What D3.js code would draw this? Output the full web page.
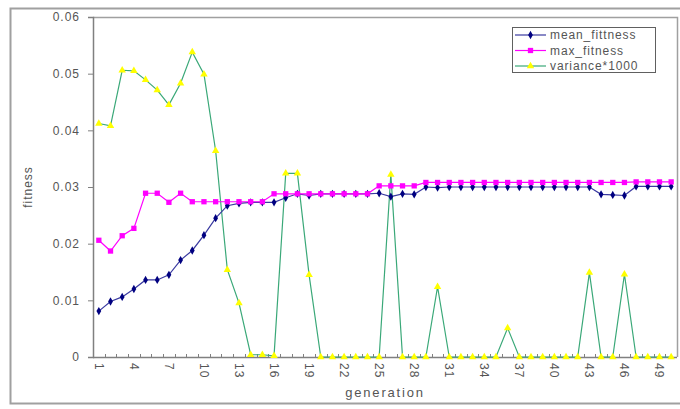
<!DOCTYPE html>
<head>
  <meta charset="utf-8" />
  <script src="https://d3js.org/d3.v7.min.js"></script>
  <title>fitness</title>
</head>
<style>
  body {
    margin: 0;
    background: #fff;
  }
  text {
    font-family: "Liberation Sans", Arial, sans-serif;
    fill: #555;
  }
</style>
<body>
  <div id="container"></div>
  <script>
    // generation numbers
    var generations = [
      1, 2, 3, 4, 5, 6, 7, 8, 9, 10, 11, 12, 13, 14, 15, 16, 17, 18, 19, 20,
      21, 22, 23, 24, 25, 26, 27, 28, 29, 30, 31, 32, 33, 34, 35, 36, 37, 38,
      39, 40, 41, 42, 43, 44, 45, 46, 47, 48, 49, 50,
    ];
    var xLabels = [1, 4, 7, 10, 13, 16, 19, 22, 25, 28, 31, 34, 37, 40, 43, 46, 49];
    var yTicks = [0, 0.01, 0.02, 0.03, 0.04, 0.05, 0.06];

    var meanFitness = [
      0.0081, 0.0098, 0.0106, 0.012, 0.0136, 0.0136, 0.0145, 0.0171, 0.0188,
      0.0215, 0.0245, 0.0267, 0.0271, 0.0273, 0.0273, 0.0273, 0.0281, 0.0288,
      0.0285, 0.0288, 0.0288, 0.0288, 0.0288, 0.0288, 0.0289, 0.0283, 0.0288,
      0.0287, 0.03, 0.0299, 0.03, 0.03, 0.03, 0.03, 0.03, 0.03, 0.03, 0.03,
      0.03, 0.03, 0.03, 0.03, 0.03, 0.0287, 0.0286, 0.0285, 0.0301, 0.0301,
      0.0301, 0.0301,
    ];
    var maxFitness = [
      0.0206, 0.0187, 0.0214, 0.0227, 0.0289, 0.0289, 0.0273, 0.0289, 0.0274,
      0.0274, 0.0274, 0.0274, 0.0274, 0.0274, 0.0274, 0.0288, 0.0288, 0.0288,
      0.0288, 0.0288, 0.0288, 0.0288, 0.0288, 0.0288, 0.0302, 0.0302, 0.0302,
      0.0302, 0.0308, 0.0308, 0.0308, 0.0308, 0.0308, 0.0308, 0.0308, 0.0308,
      0.0308, 0.0308, 0.0308, 0.0308, 0.0308, 0.0308, 0.0308, 0.0308, 0.0308,
      0.0308, 0.0309, 0.0309, 0.0309, 0.0309,
    ];
    var variance1000 = [
      0.0412, 0.0408, 0.0506, 0.0505, 0.0489, 0.0471, 0.0445, 0.0483, 0.0538,
      0.0499, 0.0364, 0.0154, 0.0095, 0.0004, 0.0004, 0.0002, 0.0324, 0.0324,
      0.0145, 0, 0, 0, 0, 0, 0, 0.0322, 0, 0, 0, 0.0124, 0, 0, 0, 0, 0,
      0.0051, 0, 0, 0, 0, 0, 0, 0.0149, 0, 0, 0.0146, 0, 0, 0, 0,
    ];

    var series = [
      { name: "mean_fittness", values: meanFitness, line: "#3a3aa0", fill: "#000080", shape: d3.symbolDiamond, size: 20 },
      { name: "max_fitness", values: maxFitness, line: "#ff00ff", fill: "#ff00ff", shape: d3.symbolSquare, size: 28 },
      { name: "variance*1000", values: variance1000, line: "#3aa878", fill: "#ffff00", shape: d3.symbolTriangle, size: 24 },
    ];

    var W = 680, H = 409;
    var plot = { left: 93, right: 677, top: 17, bottom: 357 };

    var svg = d3
      .select("#container")
      .append("svg")
      .attr("width", W)
      .attr("height", H);

    // outer chart frame
    svg
      .append("rect")
      .attr("x", 10.5)
      .attr("y", 8.5)
      .attr("width", 690)
      .attr("height", 395)
      .attr("fill", "none")
      .attr("stroke", "#a0a0a0")
      .attr("stroke-width", 2);

    var x = d3
      .scaleBand()
      .domain(generations)
      .range([plot.left, plot.right])
      .padding(0);
    var y = d3.scaleLinear().domain([0, 0.06]).range([plot.bottom, plot.top]);
    var cx = (d) => x(d) + x.bandwidth() / 2;

    // plot area border (top, right)
    svg
      .append("path")
      .attr("d", "M" + plot.left + "," + (plot.top + 0.5) + "H" + (plot.right + 0.5) + "V" + plot.bottom)
      .attr("fill", "none")
      .attr("stroke", "#a0a0a0")
      .attr("stroke-width", 1.5);

    // y axis
    var yAxis = svg
      .append("g")
      .attr("transform", "translate(" + plot.left + ",0)")
      .call(
        d3
          .axisLeft(y)
          .tickValues(yTicks)
          .tickSize(5)
          .tickPadding(8)
          .tickFormat((d) => (d === 0 ? "0" : d3.format(".2f")(d)))
      );
    yAxis.select(".domain").attr("stroke", "#808080").attr("stroke-width", 1.5);
    yAxis.selectAll(".tick line").attr("stroke", "#808080");
    yAxis
      .selectAll(".tick text")
      .style("font-size", "12px")
      .style("letter-spacing", "1px")
      .attr("fill", "#555");

    // x axis line and category ticks
    var xg = svg.append("g");
    xg.append("line")
      .attr("x1", plot.left)
      .attr("x2", plot.right)
      .attr("y1", plot.bottom + 0.5)
      .attr("y2", plot.bottom + 0.5)
      .attr("stroke", "#808080")
      .attr("stroke-width", 1.5);
    xg.selectAll(".ctick")
      .data(generations.slice(1))
      .enter()
      .append("line")
      .attr("x1", (d) => Math.round(x(d)) + 0.5)
      .attr("x2", (d) => Math.round(x(d)) + 0.5)
      .attr("y1", plot.bottom - 3)
      .attr("y2", plot.bottom)
      .attr("stroke", "#808080");
    xg.selectAll(".xlab")
      .data(xLabels)
      .enter()
      .append("text")
      .attr("transform", (d) => "translate(" + cx(d) + "," + (plot.bottom + 6) + ") rotate(90)")
      .attr("dy", "0.35em")
      .style("font-size", "12px")
      .style("letter-spacing", "1px")
      .text((d) => d);

    // axis titles
    svg
      .append("text")
      .attr("transform", "translate(32," + (plot.top + plot.bottom) / 2 + ") rotate(-90)")
      .attr("text-anchor", "middle")
      .style("font-size", "12px")
      .style("letter-spacing", "1px")
      .text("fitness");
    svg
      .append("text")
      .attr("x", (plot.left + plot.right) / 2)
      .attr("y", 397)
      .attr("text-anchor", "middle")
      .style("font-size", "13px")
      .style("letter-spacing", "1.8px")
      .text("generation");

    // lines and markers (variance drawn first, fitness on top)
    var line = d3
      .line()
      .x((d, i) => cx(generations[i]))
      .y((d) => y(d));

    [series[2], series[0], series[1]].forEach(function (s) {
      svg
        .append("path")
        .datum(s.values)
        .attr("d", line)
        .attr("fill", "none")
        .attr("stroke", s.line)
        .attr("stroke-width", 1.2);
      svg
        .selectAll(null)
        .data(s.values)
        .enter()
        .append("path")
        .attr("transform", (d, i) => "translate(" + cx(generations[i]) + "," + y(d) + ")")
        .attr("d", d3.symbol().type(s.shape).size(s.size))
        .attr("fill", s.fill);
    });

    // legend
    var lg = svg.append("g").attr("transform", "translate(512,27)");
    lg.append("rect")
      .attr("x", 0.5)
      .attr("y", 0.5)
      .attr("width", 143)
      .attr("height", 45)
      .attr("fill", "#fff")
      .attr("stroke", "#606060");
    series.forEach(function (s, i) {
      var ly = 8 + i * 15.5;
      lg.append("line")
        .attr("x1", 3)
        .attr("x2", 34)
        .attr("y1", ly)
        .attr("y2", ly)
        .attr("stroke", s.line)
        .attr("stroke-width", 1.2);
      lg.append("path")
        .attr("transform", "translate(18.5," + ly + ")")
        .attr("d", d3.symbol().type(s.shape).size(s.size))
        .attr("fill", s.fill);
      lg.append("text")
        .attr("x", 38)
        .attr("y", ly)
        .attr("dy", "0.35em")
        .style("font-size", "12px")
        .style("letter-spacing", "0.9px")
        .text(s.name);
    });
  </script>
</body>
